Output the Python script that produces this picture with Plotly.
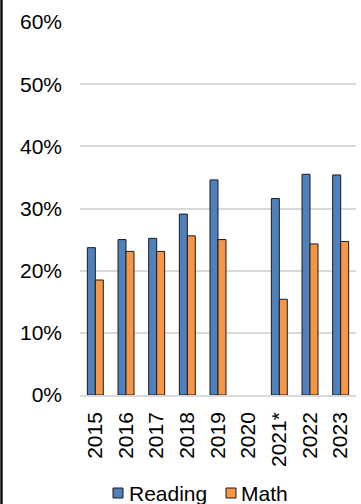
import plotly.graph_objects as go

# Share of students meeting the benchmark, by year
years = ["2015", "2016", "2017", "2018", "2019", "2020", "2021*", "2022", "2023"]
reading = [0.237, 0.250, 0.252, 0.291, 0.346, None, 0.316, 0.355, 0.354]
math = [0.185, 0.231, 0.231, 0.256, 0.250, None, 0.154, 0.243, 0.247]
y_ticks = [0, 0.1, 0.2, 0.3, 0.4, 0.5, 0.6]
y_tick_text = ["0%", "10%", "20%", "30%", "40%", "50%", "60%"]

READING_COLOR = "#4F81BD"
MATH_COLOR = "#F79646"
EDGE = "#1a1a1a"

W, H = 361, 504
ML, MR, MT, MB = 80, 5, 22, 109
plot_w = W - ML - MR
plot_h = H - MT - MB


def px_x(px):
    return (px - ML) / plot_w


def px_y(py):
    return (H - MB - py) / plot_h


fig = go.Figure()
fig.add_trace(go.Bar(
    name="Reading", x=years, y=reading,
    marker=dict(color=READING_COLOR, line=dict(color=EDGE, width=1)),
))
fig.add_trace(go.Bar(
    name="Math", x=years, y=math,
    marker=dict(color=MATH_COLOR, line=dict(color=EDGE, width=1)),
))

font = dict(family="Liberation Sans, Arial, sans-serif", size=21, color="#000000")

fig.update_layout(
    width=W, height=H,
    margin=dict(l=ML, r=MR, t=MT, b=MB, autoexpand=False),
    paper_bgcolor="white", plot_bgcolor="white",
    font=font,
    barmode="group", bargap=0.48, bargroupgap=0,
    showlegend=False,
    xaxis=dict(
        type="category", tickangle=-90, showgrid=False, automargin=False,
        showline=True, linecolor="#d9d9d9", linewidth=1.5,
        ticks="", ticklabelstandoff=7, tickfont=font,
    ),
    yaxis=dict(
        range=[0, 0.6], tickvals=y_ticks, ticktext=y_tick_text, automargin=False,
        showgrid=True, gridcolor="#d9d9d9", gridwidth=1.5,
        zeroline=False, showline=False, ticks="",
        ticklabelstandoff=17, tickfont=font,
    ),
)

# Legend below the axis: small outlined swatches with series names
legend_items = [("Reading", READING_COLOR, 113, 128), ("Math", MATH_COLOR, 226, 240)]
for name, color, sx, tx in legend_items:
    fig.add_shape(
        type="rect", xref="paper", yref="paper",
        x0=px_x(sx), x1=px_x(sx + 10), y0=px_y(498), y1=px_y(488),
        fillcolor=color, line=dict(color=EDGE, width=1),
    )
    fig.add_annotation(
        xref="paper", yref="paper", x=px_x(tx), y=px_y(493.5),
        xanchor="left", yanchor="middle", text=name, showarrow=False,
        font=font, xshift=-1,
    )

# Dark rule along the left edge of the chart area
fig.add_shape(
    type="line", xref="paper", yref="paper",
    x0=px_x(1.5), x1=px_x(1.5), y0=px_y(H), y1=px_y(0),
    line=dict(color="#111111", width=2.5),
)

fig.write_html("out.html")
